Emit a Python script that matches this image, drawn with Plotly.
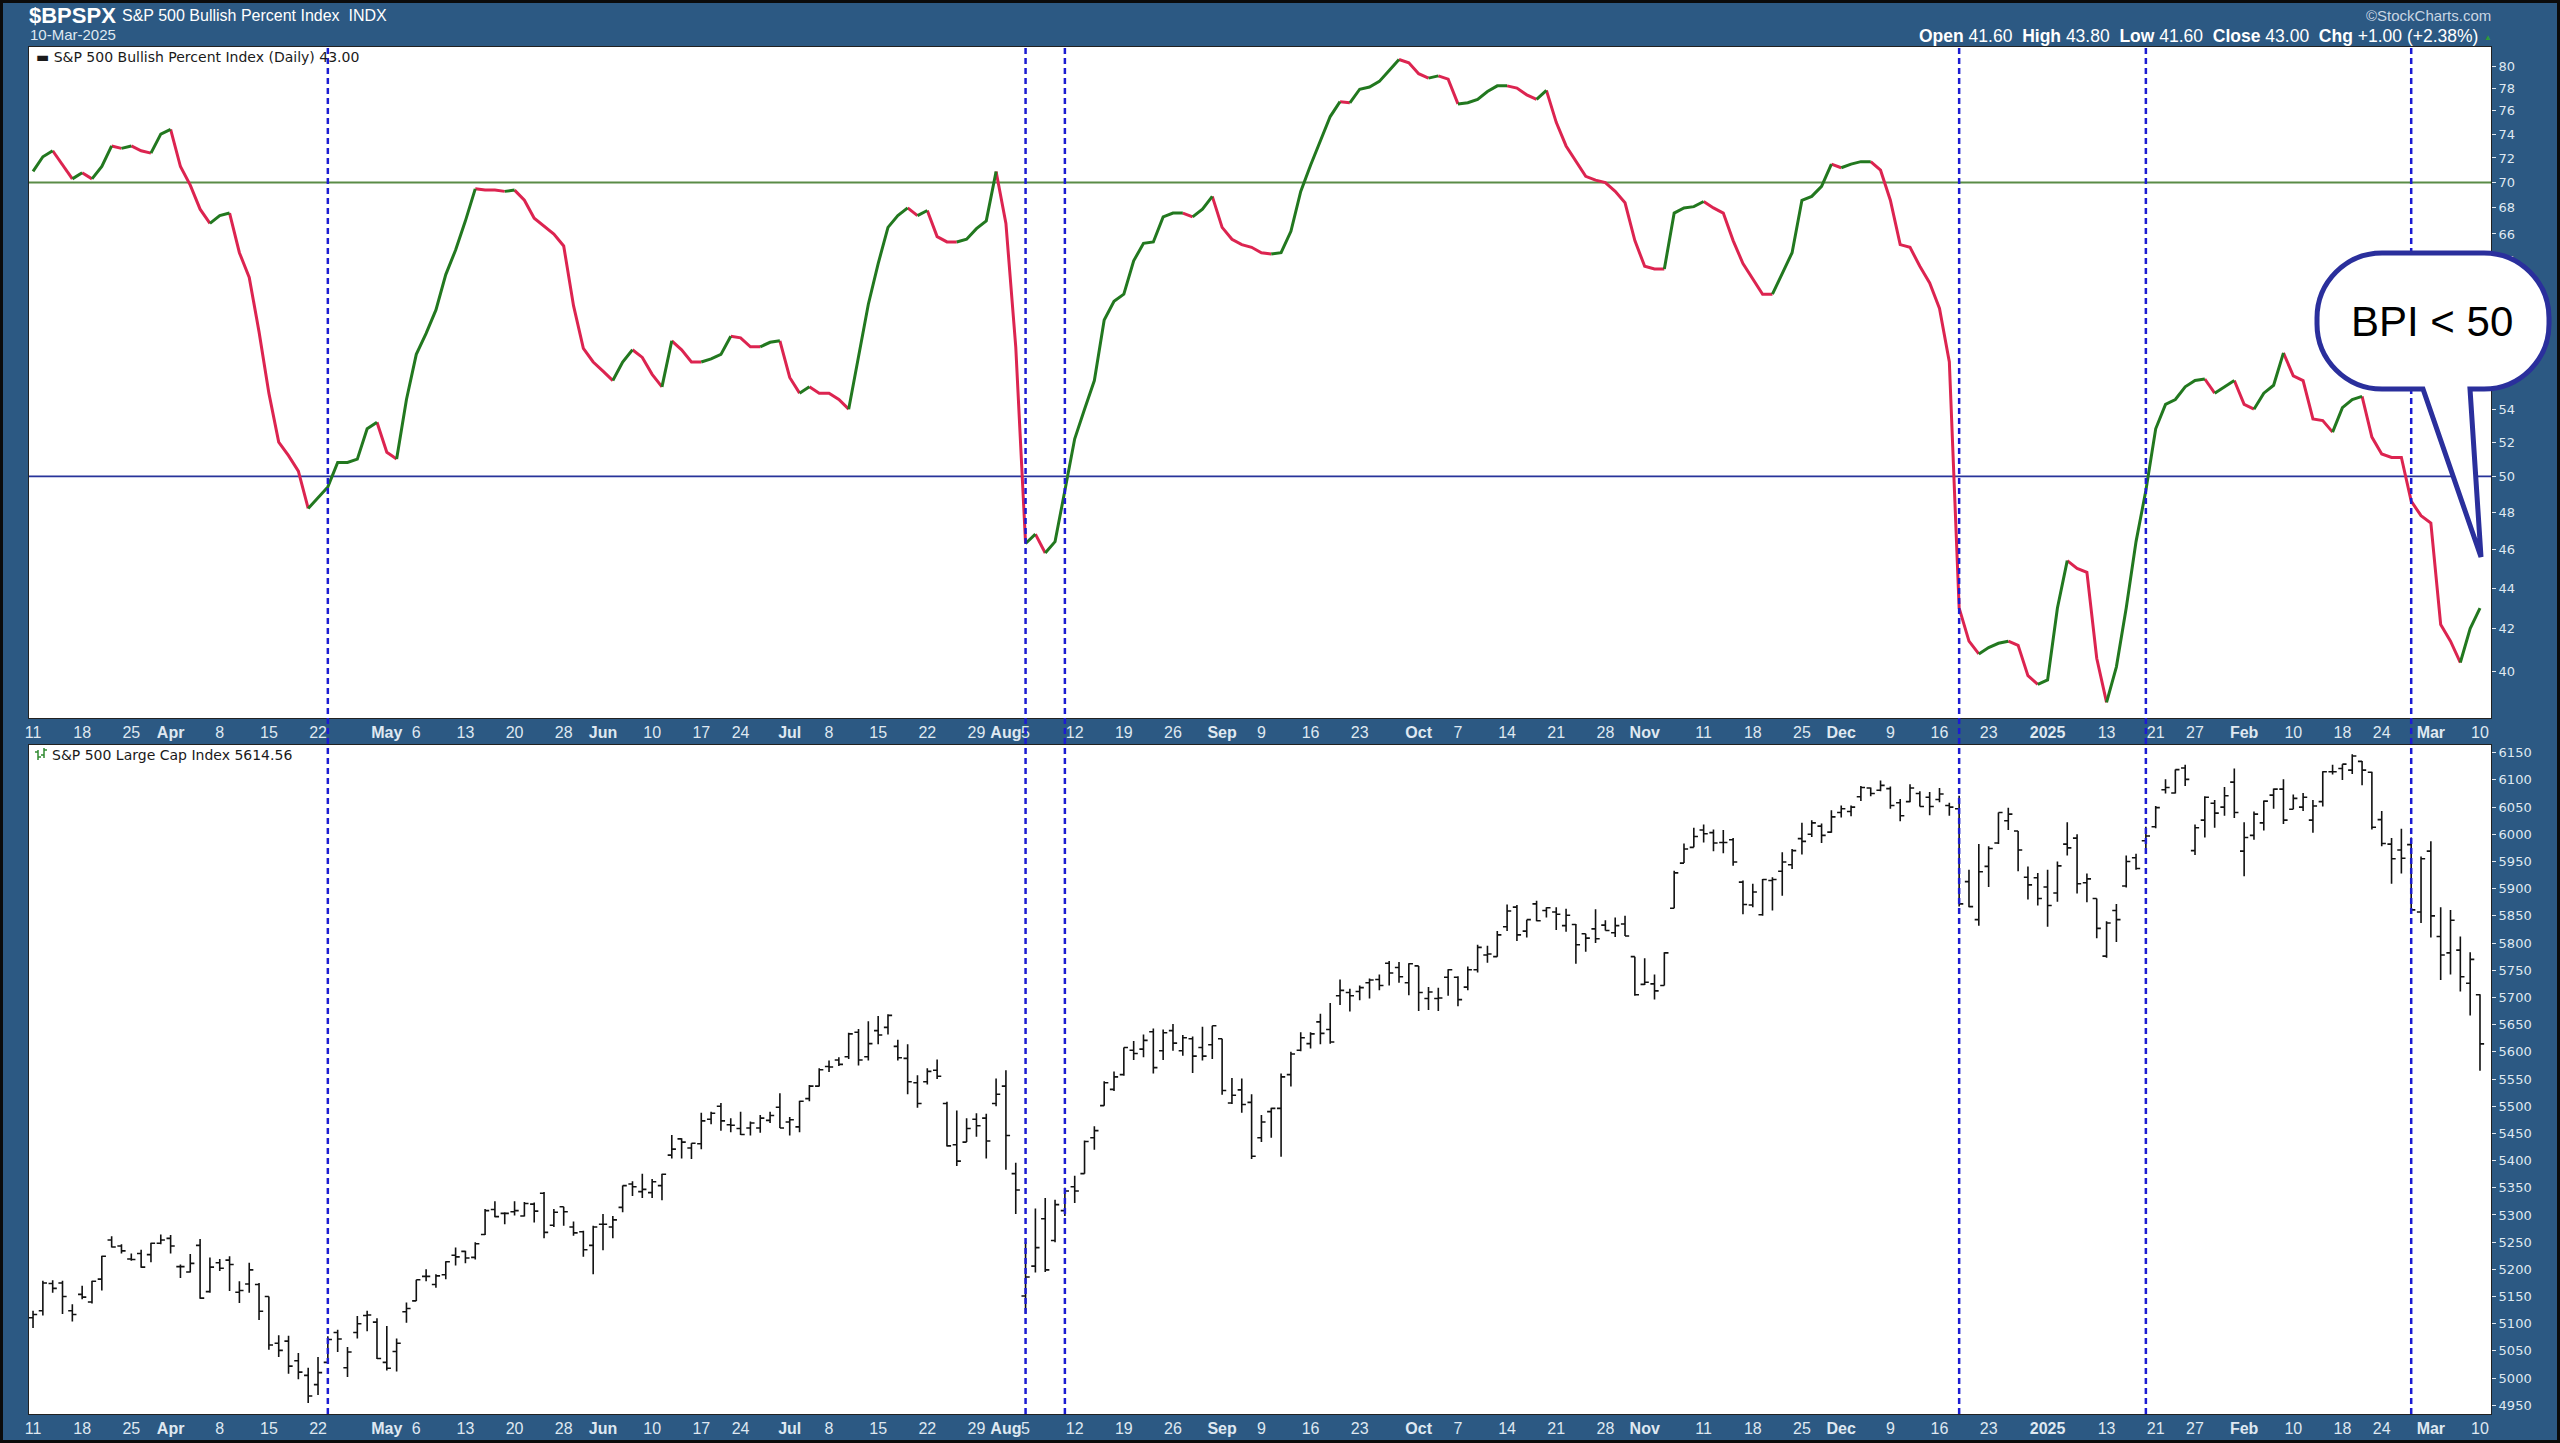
import plotly.graph_objects as go
import pandas as pd

# ---------------- data ----------------
START, END = "2024-03-11", "2025-03-10"
HOLIDAYS = ["2024-03-29", "2024-05-27", "2024-06-19", "2024-07-04", "2024-09-02",
            "2024-11-28", "2024-12-25", "2025-01-01", "2025-01-09", "2025-01-20", "2025-02-17"]

BPI = [70.9, 72.1, 72.6, 71.4, 70.3, 70.8, 70.3, 71.3, 73.0, 72.8,
       73.0, 72.6, 72.4, 74.0, 74.4, 71.3, 69.8, 67.9, 66.8, 67.4,
       67.6, 64.6, 62.8, 59.0, 55.0, 52.0, 51.2, 50.3, 48.2, 48.8,
       49.4, 50.8, 50.8, 51.0, 52.8, 53.2, 51.4, 51.0, 54.6, 57.5,
       58.9, 60.5, 63.0, 64.8, 67.0, 69.5, 69.4, 69.4, 69.3, 69.4,
       68.6, 67.2, 66.6, 66.0, 65.1, 60.8, 57.9, 57.0, 56.4, 55.8,
       57.0, 57.8, 57.3, 56.2, 55.4, 58.4, 57.8, 57.0, 57.0, 57.2,
       57.5, 58.7, 58.6, 58.0, 58.0, 58.3, 58.4, 56.0, 55.0, 55.4,
       55.0, 55.0, 54.6, 54.0, 57.4, 60.9, 63.8, 66.5, 67.4, 68.0,
       67.4, 67.8, 65.8, 65.4, 65.4, 65.6, 66.4, 67.0, 70.9, 66.8,
       58.0, 46.3, 46.8, 45.8, 46.4, 49.2, 52.2, 54.0, 55.8, 59.8,
       61.1, 61.6, 64.0, 65.3, 65.4, 67.3, 67.6, 67.6, 67.3, 67.9,
       68.9, 66.5, 65.6, 65.2, 65.0, 64.6, 64.5, 64.6, 66.2, 69.3,
       71.4, 73.5, 75.5, 76.8, 76.7, 77.9, 78.1, 78.6, 79.6, 80.6,
       80.3, 79.3, 78.9, 79.1, 78.8, 76.6, 76.7, 77.0, 77.7, 78.2,
       78.2, 78.0, 77.4, 77.0, 77.8, 75.0, 73.0, 71.7, 70.5, 70.2,
       70.0, 69.3, 68.4, 65.5, 63.6, 63.4, 63.4, 67.6, 68.0, 68.1,
       68.5, 68.0, 67.6, 65.5, 63.8, 62.7, 61.6, 61.6, 63.1, 64.6,
       68.6, 68.9, 69.7, 71.5, 71.2, 71.5, 71.7, 71.7, 71.0, 68.6,
       65.2, 65.0, 63.6, 62.4, 60.6, 57.0, 43.0, 41.4, 40.8, 41.1,
       41.3, 41.4, 41.2, 39.8, 39.4, 39.6, 43.0, 45.4, 45.0, 44.8,
       40.6, 38.6, 40.2, 43.0, 46.4, 49.2, 52.8, 54.3, 54.6, 55.4,
       55.8, 55.9, 55.0, 55.4, 55.8, 54.3, 54.0, 55.0, 55.5, 57.6,
       56.1, 55.8, 53.4, 53.3, 52.6, 54.1, 54.6, 54.8, 52.3, 51.3,
       51.1, 51.1, 48.6, 47.8, 47.4, 42.2, 41.4, 40.4, 42.0, 43.0]

SPX_OPEN = [5111, 5124, 5174, 5175, 5124, 5154, 5140, 5182, 5254, 5243,
            5219, 5229, 5227, 5248, 5257, 5205, 5195, 5244, 5159, 5212,
            5217, 5158, 5173, 5172, 5150, 5064, 5068, 5032, 5005, 4988,
            5029, 5084, 5019, 5084, 5115, 5103, 5029, 5049, 5122, 5142,
            5187, 5172, 5190, 5226, 5233, 5222, 5264, 5310, 5303, 5306,
            5298, 5320, 5340, 5281, 5315, 5278, 5269, 5244, 5283, 5278,
            5314, 5357, 5343, 5341, 5354, 5410, 5440, 5423, 5431, 5476,
            5500, 5466, 5459, 5460, 5460, 5474, 5498, 5471, 5462, 5514,
            5537, 5573, 5585, 5591, 5636, 5591, 5639, 5645, 5610, 5588,
            5543, 5545, 5566, 5505, 5429, 5434, 5476, 5478, 5505, 5537,
            5376, 5151, 5206, 5293, 5253, 5308, 5352, 5376, 5442, 5501,
            5531, 5558, 5603, 5605, 5637, 5602, 5639, 5602, 5624, 5608,
            5613, 5624, 5506, 5530, 5507, 5442, 5490, 5496, 5558, 5603,
            5615, 5655, 5641, 5703, 5709, 5711, 5727, 5733, 5763, 5755,
            5727, 5758, 5698, 5698, 5737, 5737, 5719, 5751, 5778, 5775,
            5830, 5866, 5822, 5872, 5860, 5857, 5832, 5834, 5817, 5826,
            5833, 5819, 5835, 5775, 5724, 5725, 5722, 5864, 5947, 5976,
            6008, 6003, 5985, 5990, 5912, 5870, 5852, 5915, 5932, 5944,
            5992, 6000, 6015, 6004, 6040, 6042, 6069, 6085, 6081, 6084,
            6058, 6060, 6075, 6068, 6064, 6053, 6047, 5913, 5843, 5941,
            5984, 6025, 6006, 5921, 5920, 5903, 5892, 5982, 5993, 5911,
            5882, 5776, 5860, 5905, 5957, 5988, 6014, 6082, 6076, 6122,
            5970, 6026, 6057, 6050, 6096, 5969, 5998, 6021, 6072, 6083,
            6046, 6050, 6026, 6060, 6115, 6121, 6118, 6134, 6114, 6027,
            5982, 5971, 5981, 5857, 5969, 5812, 5782, 5787, 5726, 5705]

SPX_HIGH = [5124, 5179, 5180, 5179, 5136, 5170, 5179, 5225, 5261, 5246,
            5229, 5236, 5249, 5264, 5263, 5209, 5228, 5256, 5222, 5219,
            5224, 5178, 5212, 5175, 5150, 5079, 5078, 5046, 5019, 5039,
            5077, 5089, 5057, 5114, 5124, 5110, 5096, 5073, 5139, 5181,
            5200, 5191, 5215, 5240, 5234, 5250, 5311, 5325, 5305, 5325,
            5324, 5323, 5342, 5311, 5315, 5288, 5271, 5280, 5302, 5298,
            5354, 5362, 5376, 5366, 5376, 5447, 5441, 5432, 5488, 5490,
            5506, 5478, 5490, 5472, 5484, 5490, 5524, 5480, 5510, 5539,
            5570, 5584, 5590, 5635, 5642, 5656, 5666, 5669, 5622, 5614,
            5557, 5570, 5586, 5508, 5492, 5478, 5487, 5486, 5551, 5566,
            5396, 5250, 5312, 5331, 5328, 5350, 5372, 5437, 5463, 5546,
            5564, 5608, 5620, 5632, 5643, 5641, 5651, 5631, 5628, 5646,
            5648, 5624, 5552, 5551, 5522, 5484, 5497, 5560, 5600, 5636,
            5636, 5670, 5690, 5733, 5716, 5722, 5735, 5742, 5767, 5765,
            5763, 5758, 5719, 5718, 5752, 5739, 5757, 5797, 5795, 5822,
            5871, 5870, 5843, 5878, 5866, 5866, 5863, 5835, 5817, 5862,
            5842, 5847, 5850, 5775, 5772, 5742, 5783, 5933, 5983, 6012,
            6018, 6009, 6008, 5993, 5915, 5909, 5918, 5921, 5967, 5973,
            6021, 6026, 6020, 6044, 6053, 6053, 6089, 6086, 6099, 6088,
            6065, 6092, 6079, 6078, 6085, 6058, 6071, 5935, 5982, 5978,
            6040, 6049, 6006, 5941, 5929, 5935, 5950, 6022, 6000, 5928,
            5882, 5840, 5872, 5961, 5964, 6014, 6052, 6101, 6119, 6128,
            6018, 6070, 6063, 6087, 6121, 6022, 6042, 6062, 6084, 6101,
            6073, 6076, 6063, 6116, 6128, 6129, 6147, 6135, 6115, 6043,
            5993, 6010, 5994, 5959, 5987, 5866, 5861, 5812, 5783, 5706]

SPX_LOW = [5092, 5115, 5157, 5118, 5104, 5145, 5137, 5161, 5240, 5229,
           5216, 5203, 5213, 5246, 5229, 5184, 5194, 5146, 5157, 5197,
           5160, 5138, 5157, 5107, 5052, 5039, 5008, 4998, 4954, 4969,
           5028, 5048, 5002, 5073, 5086, 5035, 5014, 5012, 5102, 5142,
           5178, 5166, 5182, 5207, 5211, 5218, 5263, 5296, 5283, 5299,
           5297, 5286, 5257, 5278, 5280, 5262, 5223, 5191, 5235, 5257,
           5305, 5335, 5331, 5331, 5327, 5404, 5404, 5403, 5421, 5467,
           5455, 5452, 5447, 5446, 5451, 5469, 5460, 5446, 5452, 5509,
           5536, 5563, 5574, 5587, 5575, 5584, 5614, 5632, 5584, 5522,
           5497, 5540, 5550, 5426, 5390, 5434, 5444, 5404, 5500, 5383,
           5302, 5119, 5194, 5195, 5250, 5298, 5322, 5376, 5420, 5501,
           5528, 5556, 5585, 5590, 5560, 5585, 5602, 5593, 5561, 5584,
           5587, 5521, 5504, 5488, 5403, 5434, 5442, 5407, 5536, 5601,
           5606, 5614, 5615, 5686, 5674, 5695, 5698, 5713, 5722, 5727,
           5704, 5675, 5677, 5675, 5703, 5684, 5713, 5746, 5764, 5775,
           5822, 5804, 5810, 5840, 5847, 5824, 5821, 5762, 5784, 5800,
           5823, 5811, 5813, 5703, 5723, 5696, 5722, 5864, 5947, 5976,
           5985, 5969, 5965, 5942, 5853, 5866, 5850, 5860, 5887, 5936,
           5963, 5995, 5984, 6003, 6031, 6033, 6061, 6070, 6079, 6047,
           6024, 6059, 6051, 6035, 6059, 6034, 5867, 5866, 5832, 5903,
           5982, 6008, 5932, 5880, 5869, 5830, 5876, 5961, 5891, 5875,
           5809, 5773, 5802, 5902, 5935, 5968, 6011, 6075, 6075, 6089,
           5962, 5994, 6012, 6034, 6030, 5923, 5990, 6007, 6047, 6019,
           6046, 6043, 6003, 6051, 6110, 6100, 6111, 6090, 6009, 5978,
           5909, 5928, 5858, 5837, 5810, 5732, 5742, 5711, 5667, 5565]

SPX_CLOSE = [5117, 5175, 5165, 5150, 5117, 5149, 5178, 5224, 5241, 5234,
             5218, 5204, 5248, 5254, 5243, 5205, 5211, 5147, 5204, 5202,
             5209, 5161, 5199, 5123, 5061, 5051, 5022, 5011, 4967, 5010,
             5071, 5072, 5048, 5100, 5116, 5036, 5018, 5064, 5128, 5181,
             5187, 5188, 5214, 5223, 5221, 5247, 5308, 5297, 5303, 5308,
             5321, 5307, 5268, 5305, 5306, 5267, 5236, 5278, 5283, 5291,
             5354, 5352, 5347, 5361, 5375, 5421, 5434, 5432, 5473, 5487,
             5473, 5465, 5448, 5469, 5478, 5483, 5460, 5475, 5509, 5537,
             5567, 5572, 5577, 5633, 5585, 5615, 5631, 5667, 5589, 5545,
             5505, 5564, 5555, 5427, 5399, 5459, 5464, 5436, 5522, 5446,
             5346, 5186, 5240, 5199, 5319, 5344, 5344, 5435, 5455, 5543,
             5554, 5608, 5597, 5621, 5571, 5635, 5616, 5626, 5592, 5592,
             5648, 5529, 5520, 5503, 5408, 5471, 5496, 5554, 5596, 5626,
             5633, 5634, 5618, 5713, 5703, 5718, 5732, 5722, 5745, 5738,
             5762, 5709, 5710, 5699, 5751, 5696, 5751, 5792, 5780, 5815,
             5859, 5815, 5843, 5841, 5865, 5853, 5851, 5797, 5809, 5808,
             5823, 5832, 5813, 5705, 5728, 5712, 5782, 5929, 5973, 5996,
             6001, 5984, 5985, 5949, 5871, 5894, 5917, 5917, 5949, 5970,
             5987, 6021, 5998, 6032, 6047, 6050, 6086, 6075, 6090, 6053,
             6034, 6085, 6051, 6051, 6074, 6050, 5872, 5867, 5931, 5974,
             6040, 6037, 5971, 5907, 5882, 5869, 5942, 5975, 5909, 5918,
             5827, 5837, 5843, 5950, 5937, 5997, 6049, 6086, 6119, 6101,
             6012, 6068, 6039, 6071, 6040, 5994, 6037, 6061, 6083, 6026,
             6066, 6068, 6052, 6115, 6115, 6129, 6144, 6118, 6013, 5983,
             5955, 5956, 5861, 5955, 5850, 5778, 5842, 5738, 5770, 5614.56]

TICK_DATES = ["2024-03-11", "2024-03-18", "2024-03-25", "2024-04-01", "2024-04-08", "2024-04-15",
              "2024-04-22", "2024-05-01", "2024-05-06", "2024-05-13", "2024-05-20", "2024-05-28",
              "2024-06-03", "2024-06-10", "2024-06-17", "2024-06-24", "2024-07-01", "2024-07-08",
              "2024-07-15", "2024-07-22", "2024-07-29", "2024-08-01", "2024-08-05", "2024-08-12",
              "2024-08-19", "2024-08-26", "2024-09-03", "2024-09-09", "2024-09-16", "2024-09-23",
              "2024-10-01", "2024-10-07", "2024-10-14", "2024-10-21", "2024-10-28", "2024-11-01",
              "2024-11-11", "2024-11-18", "2024-11-25", "2024-12-02", "2024-12-09", "2024-12-16",
              "2024-12-23", "2025-01-02", "2025-01-13", "2025-01-21", "2025-01-27", "2025-02-03",
              "2025-02-10", "2025-02-18", "2025-02-24", "2025-03-03", "2025-03-10"]
TICK_TEXT = ["11", "18", "25", "Apr", "8", "15", "22", "May", "6", "13", "20", "28", "Jun", "10",
             "17", "24", "Jul", "8", "15", "22", "29", "Aug", "5", "12", "19", "26", "Sep", "9",
             "16", "23", "Oct", "7", "14", "21", "28", "Nov", "11", "18", "25", "Dec", "9", "16",
             "23", "2025", "13", "21", "27", "Feb", "10", "18", "24", "Mar", "10"]

SIGNAL_DATES = ["2024-04-23", "2024-08-05", "2024-08-09", "2024-12-18", "2025-01-17", "2025-02-27"]
# right-axis labels of the BPI panel (56-62 sit under the callout in the reference)
BPI_TICKS = [40, 42, 44, 46, 48, 50, 52, 54, 64, 66, 68, 70, 72, 74, 76, 78, 80]
SPX_TICKS = list(range(4950, 6200, 50))
BPI_LEVELS = [70, 50]

# ---------------- helpers ----------------
dates = [d.strftime("%Y-%m-%d") for d in pd.bdate_range(START, END)
         if d.strftime("%Y-%m-%d") not in HOLIDAYS]
pos = {d: i for i, d in enumerate(dates)}
xi = list(range(len(dates)))

W, H = 2560, 1443
L, R, T, B = 29, 2491, 47, 1414


def px(x):
    return (x - L) / (R - L)


def py(y):
    return (B - y) / (B - T)


XR = [-0.41, 250.12]
BG = "#2C5983"
LIGHT = "#dfe8f1"

fig = go.Figure()

# horizontal reference lines on BPI panel
for lvl, col, w in zip(BPI_LEVELS, ["#5a8c47", "#27339a"], [2, 1.6]):
    fig.add_trace(go.Scatter(x=XR, y=[lvl, lvl], mode="lines", line=dict(color=col, width=w),
                             xaxis="x", yaxis="y", hoverinfo="skip", showlegend=False))

# BPI coloured by direction
runs = []
cur_dir, cur = None, [0]
for i in range(1, len(BPI)):
    d = "g" if BPI[i] > BPI[i - 1] else ("r" if BPI[i] < BPI[i - 1] else (cur_dir or "g"))
    if cur_dir is None or d == cur_dir:
        cur.append(i)
        cur_dir = d
    else:
        runs.append((cur_dir, cur))
        cur = [i - 1, i]
        cur_dir = d
runs.append((cur_dir, cur))
seg = {"g": ([], []), "r": ([], [])}
for d, idxs in runs:
    seg[d][0].extend([xi[k] for k in idxs] + [None])
    seg[d][1].extend([BPI[k] for k in idxs] + [None])
for d, col in [("r", "#dc2450"), ("g", "#22781f")]:
    fig.add_trace(go.Scatter(x=seg[d][0], y=seg[d][1], mode="lines",
                             line=dict(color=col, width=3), connectgaps=False,
                             xaxis="x", yaxis="y", hoverinfo="skip", showlegend=False))

# S&P 500 OHLC
fig.add_trace(go.Ohlc(x=xi, open=SPX_OPEN, high=SPX_HIGH, low=SPX_LOW, close=SPX_CLOSE,
                      increasing=dict(line=dict(color="#111111", width=1.6)),
                      decreasing=dict(line=dict(color="#111111", width=1.6)),
                      tickwidth=0.42, xaxis="x2", yaxis="y2", hoverinfo="skip", showlegend=False))

tickvals = [pos[d] for d in TICK_DATES]
ticktext = [("<b>%s</b>" % t) if (not t.isdigit() or len(t) == 4) else t for t in TICK_TEXT]
xfont = dict(family="Liberation Sans Narrow, Arial Narrow, Liberation Sans, sans-serif", size=16, color=LIGHT)
yfont = dict(family="DejaVu Sans, Verdana, sans-serif", size=13, color=LIGHT)

axis_common = dict(showgrid=False, zeroline=False, showline=True, linecolor="#222222", linewidth=1,
                   mirror=True, automargin=False)

fig.update_layout(
    width=W, height=H,
    margin=dict(l=L, r=W - R, t=T, b=H - B, autoexpand=False),
    paper_bgcolor=BG, plot_bgcolor="white",
    hovermode=False, showlegend=False,
    xaxis=dict(domain=[0, 1], anchor="y", range=XR, tickmode="array", tickvals=tickvals,
               ticktext=ticktext, tickfont=xfont, ticks="", tickangle=0, **axis_common),
    yaxis=dict(domain=[py(718), 1], anchor="x", type="log",
               range=[1.57879, 1.91254], side="right", tickmode="array", tickvals=BPI_TICKS,
               ticks="outside", ticklen=4, tickcolor=LIGHT, tickfont=yfont, **axis_common),
    xaxis2=dict(domain=[0, 1], anchor="y2", range=XR, matches="x", tickmode="array",
                tickvals=tickvals, ticktext=ticktext, tickfont=xfont, ticks="", tickangle=0,
                rangeslider=dict(visible=False), **axis_common),
    yaxis2=dict(domain=[0, py(745)], anchor="x2", range=[4934.0, 6164.2], side="right",
                tickmode="array", tickvals=SPX_TICKS, ticks="outside", ticklen=4,
                tickcolor=LIGHT, tickfont=yfont, **axis_common),
)

shapes = []
# vertical signal lines across both panels
for d in SIGNAL_DATES:
    shapes.append(dict(type="line", xref="x", yref="paper", x0=pos[d], x1=pos[d], y0=0, y1=1,
                       line=dict(color="#1c1cd2", width=2.5, dash="6px,4px"), layer="above"))

# speech bubble (pixel geometry)
bl, br, bt, bb, rr = 2317, 2549, 253, 389, 65
k = 0.5523 * rr
pts = [
    ("M", [(2423, bb)]),
    ("L", [(bl + rr, bb)]),
    ("C", [(bl + rr - k, bb), (bl, bb - rr + k), (bl, bb - rr)]),
    ("L", [(bl, bt + rr)]),
    ("C", [(bl, bt + rr - k), (bl + rr - k, bt), (bl + rr, bt)]),
    ("L", [(br - rr, bt)]),
    ("C", [(br - rr + k, bt), (br, bt + rr - k), (br, bt + rr)]),
    ("L", [(br, bb - rr)]),
    ("C", [(br, bb - rr + k), (br - rr + k, bb), (br - rr, bb)]),
    ("L", [(2470, bb)]),
    ("L", [(2481, 557)]),
]
path = ""
for cmd, ps in pts:
    path += cmd + " " + " ".join("%.5f,%.5f" % (px(a), py(b)) for a, b in ps) + " "
path += "Z"
shapes.append(dict(type="path", xref="paper", yref="paper", path=path, fillcolor="white",
                   line=dict(color="#2a2f9c", width=5), layer="above"))

# outer frame
shapes.append(dict(type="rect", xref="paper", yref="paper", x0=px(0), x1=px(W), y0=py(H), y1=py(0),
                   line=dict(color="#0b0b0b", width=6), fillcolor="rgba(0,0,0,0)", layer="above"))

# tiny ohlc legend icon
for (x0, y0, x1, y1) in [(38, 750, 38, 760), (35, 752, 38, 752), (38, 757, 41, 757),
                         (44, 748, 44, 758), (41, 755, 44, 755), (44, 750, 47, 750)]:
    shapes.append(dict(type="line", xref="paper", yref="paper", x0=px(x0), x1=px(x1),
                       y0=py(y0), y1=py(y1), line=dict(color="#2f8a2f", width=1.5)))
fig.update_layout(shapes=shapes)

narrow = "Liberation Sans Narrow, Arial Narrow, Liberation Sans, sans-serif"
ann = []


def add_text(x, y, text, size, color, family=narrow, xanchor="left"):
    ann.append(dict(xref="paper", yref="paper", x=px(x), y=py(y), text=text, showarrow=False,
                    xanchor=xanchor, yanchor="middle", font=dict(family=family, size=size, color=color)))


add_text(27, 15, "<b>$BPSPX</b>", 22, "white")
add_text(120, 15, "S&P 500 Bullish Percent Index  INDX", 16, "white")
add_text(28, 35, "10-Mar-2025", 15, LIGHT)
add_text(2493, 15, "©StockCharts.com", 15, "#c9d6e3", xanchor="right")
add_text(2480, 36, "<b>Open</b> 41.60  <b>High</b> 43.80  <b>Low</b> 41.60  <b>Close</b> 43.00  "
                   "<b>Chg</b> +1.00 (+2.38%)", 17.5, "white", xanchor="right")
add_text(2482, 38, "▲", 8, "#2e9a3a")
add_text(34, 57, "▬ S&P 500 Bullish Percent Index (Daily) 43.00", 14, "#1a1a1a", family="DejaVu Sans")
add_text(50, 755, "S&P 500 Large Cap Index 5614.56", 14, "#1a1a1a", family="DejaVu Sans")
add_text(2432, 322, "BPI < 50", 42, "black", family="Liberation Sans, Arial, sans-serif", xanchor="center")
fig.update_layout(annotations=ann)

fig.write_html("out.html", config={"displayModeBar": False},
               post_script="document.body.style.margin='0';document.body.style.overflow='hidden';")
